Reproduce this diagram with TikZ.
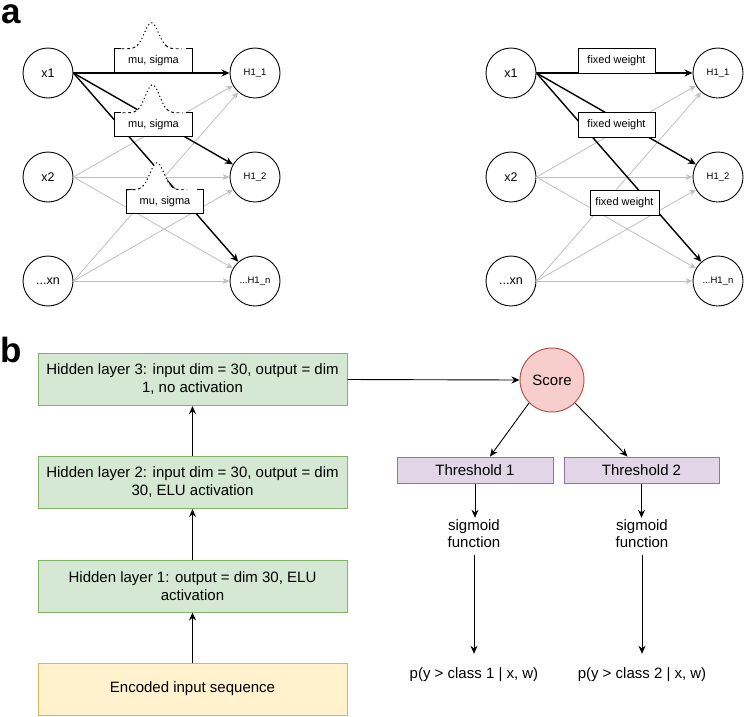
\documentclass[tikz,border=0pt]{standalone}
\usepackage{fontspec}
\setmainfont{Liberation Sans}
\usetikzlibrary{arrows.meta}

\definecolor{layerfill}{HTML}{D5E8D4}
\definecolor{layerline}{HTML}{82B366}
\definecolor{inputfill}{HTML}{FFF2CC}
\definecolor{inputline}{HTML}{D6B656}
\definecolor{scorefill}{HTML}{F8CECC}
\definecolor{scoreline}{HTML}{B85450}
\definecolor{thresfill}{HTML}{E1D5E7}
\definecolor{thresline}{HTML}{9673A6}

% box with a gaussian drawn on its top edge
\newcommand{\gaussbox}[3]{%
  \draw[line width=0.9pt] ([xshift=6pt]#1.north west) -- (#1.north west) -- (#1.south west)
    -- (#1.south east) -- (#1.north east) -- ([xshift=-6pt]#1.north east);
  \begin{scope}[shift={(#1.north)}, xshift=#2]
    \fill[white] plot[domain=-30:30, samples=41, smooth] (\x, {-#3*exp(-(\x*\x)/100)}) -- cycle;
    \draw[dash pattern=on 3pt off 2.5pt, line width=0.9pt]
      plot[domain=-30:-14, samples=9] (\x, {-#3*exp(-(\x*\x)/100)})
      plot[domain=14:30, samples=9] (\x, {-#3*exp(-(\x*\x)/100)});
    \draw[dash pattern=on 1.2pt off 2.6pt, line width=1pt]
      plot[domain=-14:14, samples=31, smooth] (\x, {-#3*exp(-(\x*\x)/100)});
  \end{scope}}

\begin{document}
\begin{tikzpicture}[
    x=1pt, y=-1pt,
    panel/.style={anchor=base west, inner sep=0pt, font=\fontsize{35}{35}\selectfont\bfseries},
    neuron/.style={circle, draw, line width=0.9pt, minimum size=50pt, inner sep=0pt, font=\fontsize{12.5}{12.5}\selectfont},
    hidden/.style={neuron, font=\fontsize{9.5}{9.5}\selectfont},
    wbox/.style={fill=white, inner sep=0pt, minimum height=23pt, font=\fontsize{11}{11}\selectfont},
    fbox/.style={wbox, draw, line width=0.9pt, minimum height=25pt},
    strong/.style={-{Stealth[length=8pt,width=7pt]}, line width=1.4pt},
    faint/.style={-{Stealth[length=7pt,width=6pt]}, draw=gray!50, line width=0.8pt},
    layer/.style={draw=layerline, fill=layerfill, line width=1pt, minimum width=309pt, minimum height=52pt,
        align=center, font=\fontsize{15}{18}\selectfont},
    thres/.style={draw=thresline, fill=thresfill, line width=1pt, minimum height=26pt, font=\fontsize{15}{17}\selectfont},
    arr/.style={-{Stealth[length=8pt,width=7pt]}, line width=0.9pt},
    txt/.style={align=center, inner sep=2pt, font=\fontsize{15}{17}\selectfont}
  ]
  \useasboundingbox (0,0) rectangle (747,716);

  \node[panel] (pa) at (1,23) {a};
  \node[panel] (pb) at (0,362) {b};

  \node[neuron] (x1) at (48,73) {x1};
  \node[neuron] (x2) at (48,177) {x2};
  \node[neuron] (xn) at (48,281) {...xn};
  \node[hidden] (h1) at (255,73) {H1\_1};
  \node[hidden] (h2) at (255,177) {H1\_2};
  \node[hidden] (hn) at (255,281) {...H1\_n};
  \foreach \s in {x2,xn}
    \foreach \t in {h1,h2,hn}
      \draw[faint] (\s.east) -- (\t);
  \draw[strong] (x1.east) -- (h1);
  \draw[strong] (x1.east) -- (h2);
  \draw[strong] (x1.east) -- (hn);
  \node[wbox, minimum width=77pt] (ms1) at (153.5,60.5) {mu, sigma};
  \node[wbox, minimum width=77pt] (ms2) at (153.5,124.5) {mu, sigma};
  \node[wbox, minimum width=76pt] (ms3) at (165,201.5) {mu, sigma};
  \gaussbox{ms1}{-2pt}{26}
  \gaussbox{ms2}{-1pt}{28}
  \gaussbox{ms3}{-8pt}{27}

  \node[neuron] (fx1) at (511,73) {x1};
  \node[neuron] (fx2) at (511,177) {x2};
  \node[neuron] (fxn) at (511,281) {...xn};
  \node[hidden] (fh1) at (718,73) {H1\_1};
  \node[hidden] (fh2) at (718,177) {H1\_2};
  \node[hidden] (fhn) at (718,281) {...H1\_n};
  \foreach \s in {fx2,fxn}
    \foreach \t in {fh1,fh2,fhn}
      \draw[faint] (\s.east) -- (\t);
  \draw[strong] (fx1.east) -- (fh1);
  \draw[strong] (fx1.east) -- (fh2);
  \draw[strong] (fx1.east) -- (fhn);
  \node[fbox, minimum width=77pt] (fw1) at (616.5,60.5) {fixed weight};
  \node[fbox, minimum width=77pt] (fw2) at (616.5,125) {fixed weight};
  \node[fbox, minimum width=69pt] (fw3) at (624.5,202.5) {fixed weight};

  \node[layer] (hl3) at (192.5,379.5) {Hidden layer 3: input dim = 30, output = dim\\1, no activation};
  \node[layer] (hl2) at (192.5,482.5) {Hidden layer 2: input dim = 30, output = dim\\30, ELU activation};
  \node[layer] (hl1) at (192.5,586) {Hidden layer 1: output = dim 30, ELU\\activation};
  \node[layer, draw=inputline, fill=inputfill] (enc) at (192.5,689) {Encoded input sequence};
  \draw[arr, line width=1.6pt] (enc.north) -- (hl1.south);
  \draw[arr, line width=1.1pt] (hl1.north) -- (hl2.south);
  \draw[arr, line width=1.6pt] (hl2.north) -- (hl3.south);

  \node[circle, draw=scoreline, fill=scorefill, line width=1pt, minimum size=64pt, inner sep=0pt,
    font=\fontsize{15}{15}\selectfont] (score) at (552,380) {Score};
  \draw[arr] (hl3.east) -- (score.west);
  \node[thres, minimum width=156pt] (th1) at (475,470) {Threshold 1};
  \node[thres, minimum width=155pt] (th2) at (641.5,470) {Threshold 2};
  \draw[arr] (score.-135) -- ([xshift=15pt]th1.north);
  \draw[arr] (score.-45) -- ([xshift=-14pt]th2.north);

  \node[txt] (sg1) at (474,534) {sigmoid\\function};
  \node[txt] (sg2) at (642,534) {sigmoid\\function};
  \draw[arr] (th1.south) -- (th1.south |- sg1.north);
  \draw[arr] (th2.south) -- (th2.south |- sg2.north);

  \node[txt] (p1) at (474,675) {p(y > class 1 | x, w)};
  \node[txt] (p2) at (642,675) {p(y > class 2 | x, w)};
  \draw[arr, shorten <=5pt, shorten >=12pt] (sg1.south) -- (p1.north);
  \draw[arr, shorten <=5pt, shorten >=12pt] (sg2.south) -- (p2.north);
\end{tikzpicture}
\end{document}
